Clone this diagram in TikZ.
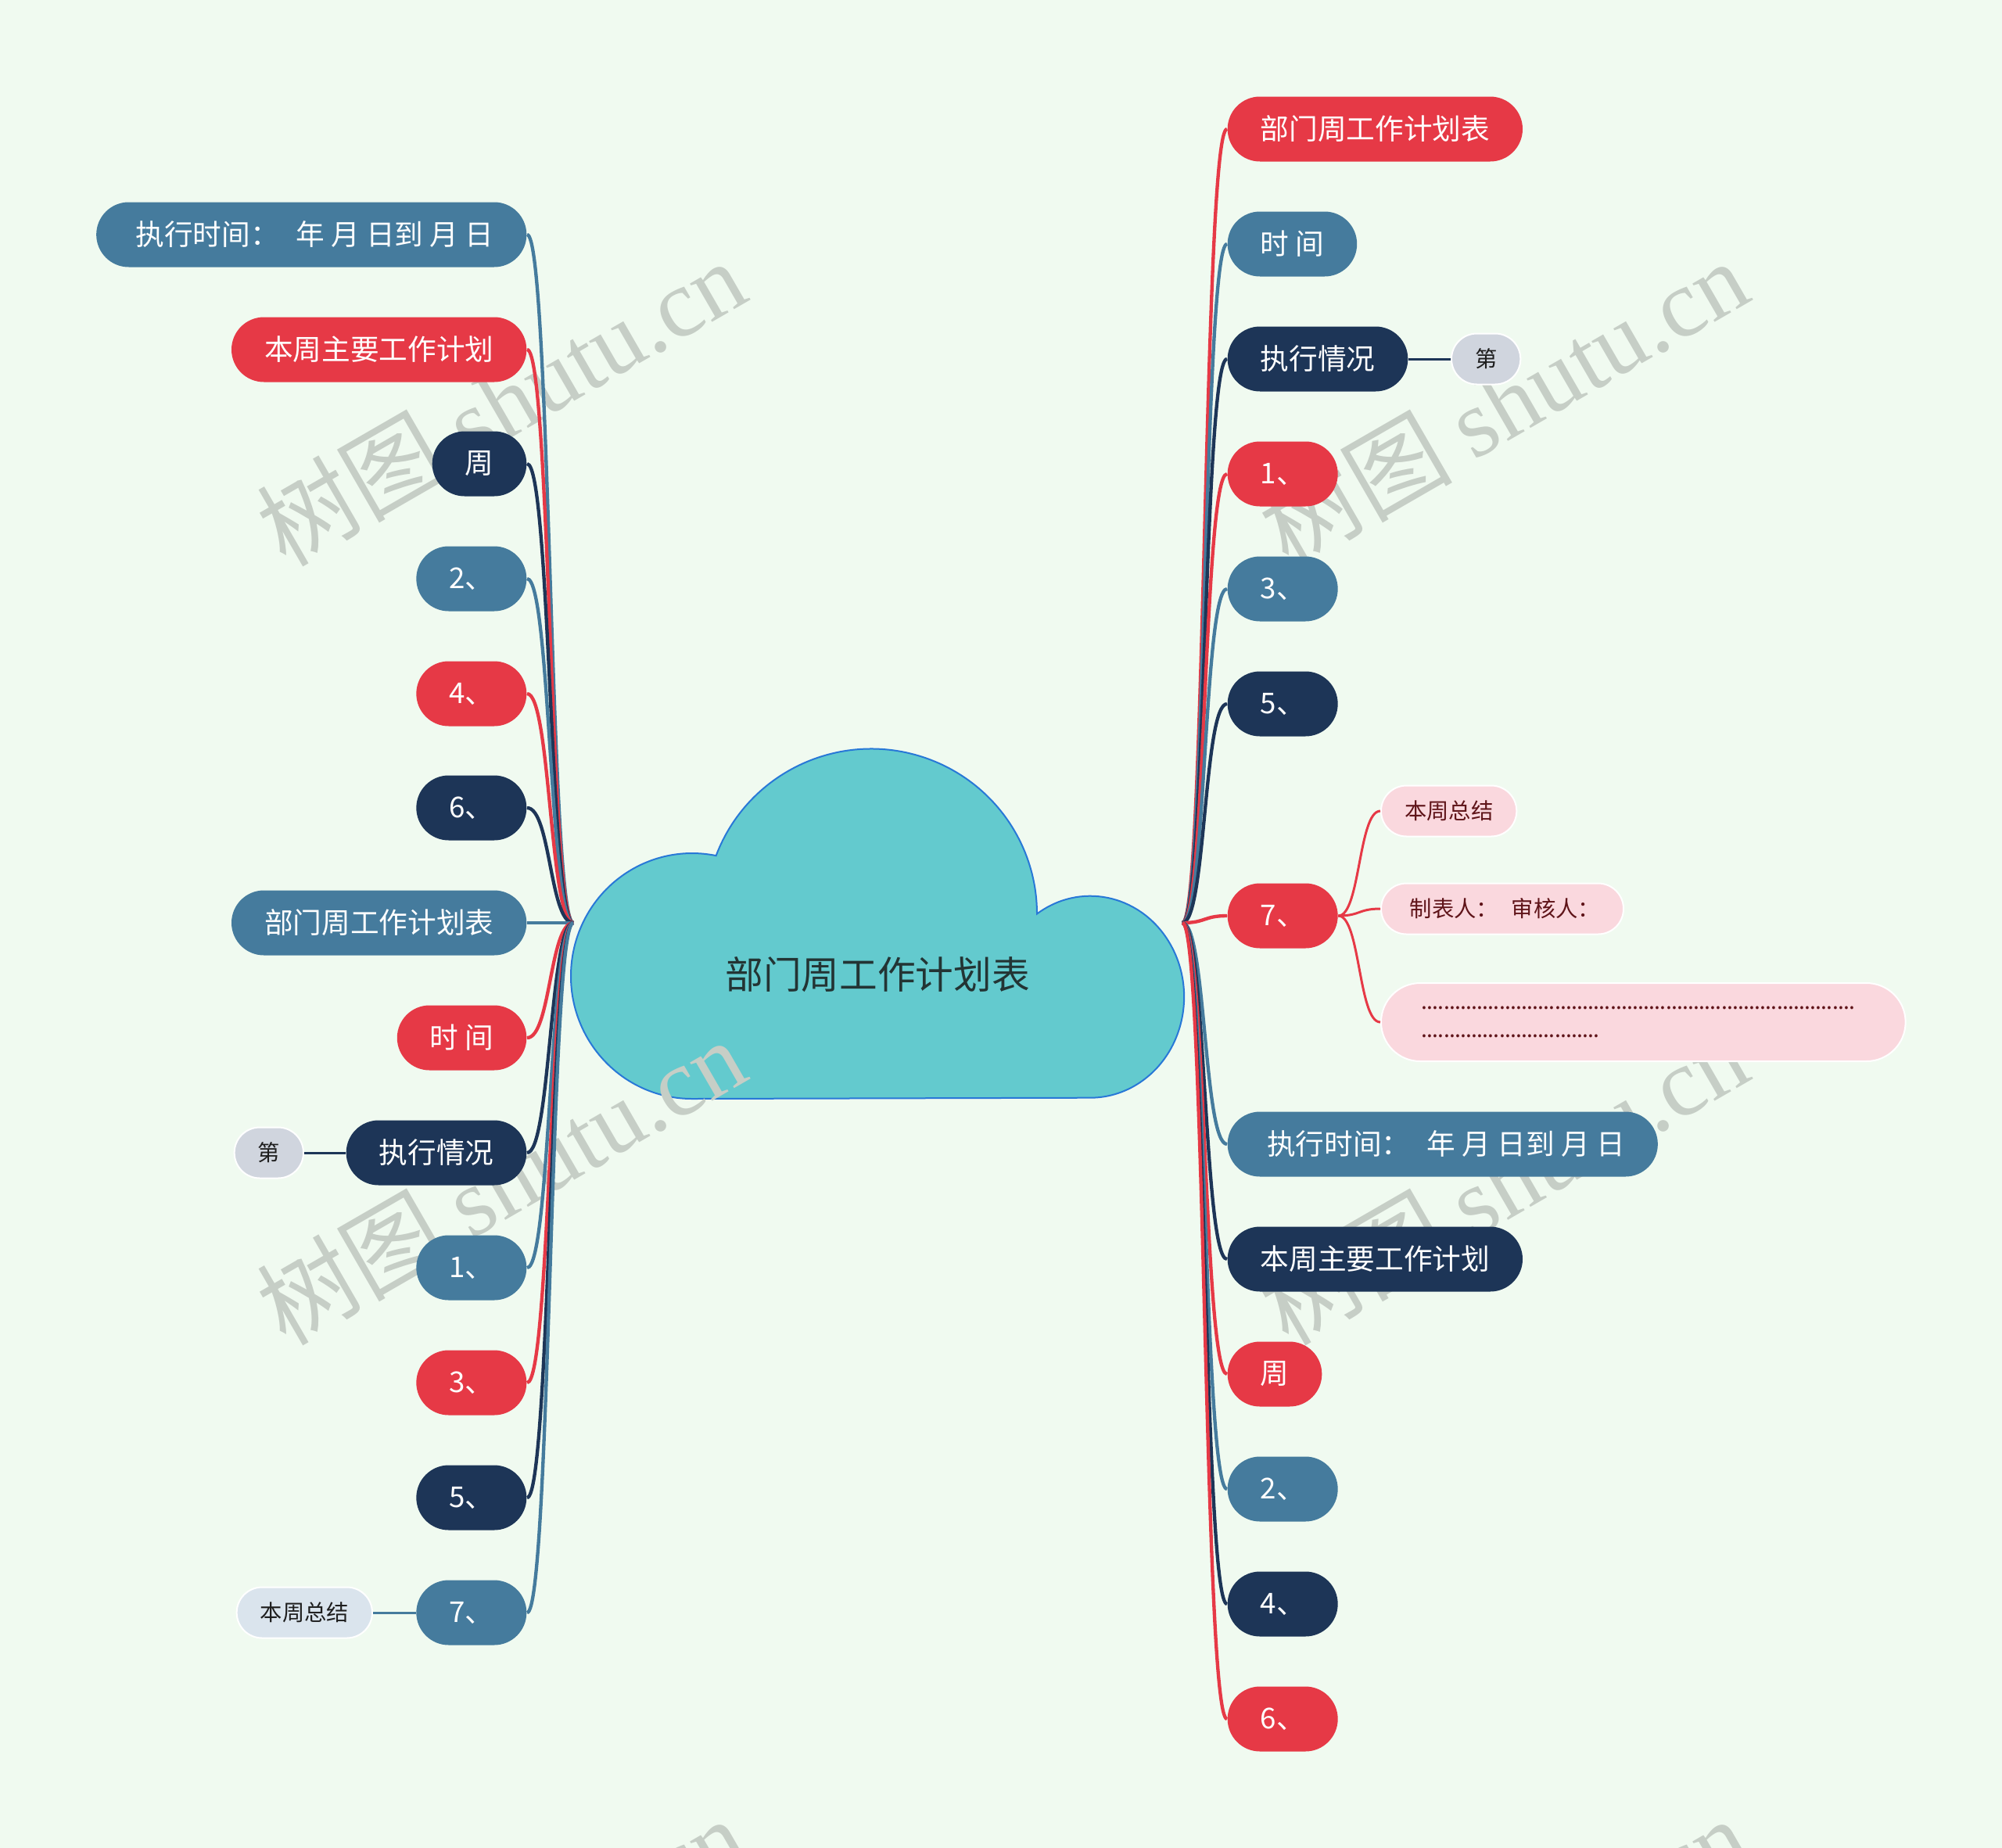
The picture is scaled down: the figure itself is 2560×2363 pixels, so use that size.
\documentclass[tikz,border=0pt]{standalone}
\usepackage{fontspec}
\setmainfont{Noto Sans CJK SC}
\newfontfamily\wmfont{Liberation Serif}
\definecolor{mmbg}{RGB}{240,250,240}
\definecolor{mmblue}{RGB}{69,123,157}
\definecolor{mmred}{RGB}{230,57,70}
\definecolor{mmnavy}{RGB}{29,53,87}
\definecolor{mmcloud}{RGB}{99,202,206}
\definecolor{mmcloudline}{RGB}{40,120,215}
\definecolor{mmgray}{RGB}{208,213,222}
\definecolor{mmpale}{RGB}{218,228,237}
\definecolor{mmpink}{RGB}{250,216,222}
\definecolor{mmwine}{RGB}{95,20,25}
\definecolor{mmink}{RGB}{30,30,30}
\definecolor{mmtitle}{RGB}{35,52,52}
\definecolor{mmwater}{RGB}{198,206,198}
\newcommand{\dotrow}[1]{\leavevmode\hbox to #1{\leaders\hbox to 2.13pt{\hss.\hss}\hfill}}
\begin{document}
\begin{tikzpicture}[x=0.3pt, y=-0.3pt,
  b/.style={rounded corners=12.45pt, minimum height=24.9pt, inner xsep=12.6pt,
            inner ysep=0pt, text=white, font=\fontsize{11}{13}\selectfont},
  bblue/.style={b, fill=mmblue},
  bred/.style={b, fill=mmred},
  bnavy/.style={b, fill=mmnavy},
  num/.style={minimum width=41.7pt},
  lf/.style={rounded corners=9.75pt, minimum height=19.5pt, inner xsep=9pt,
             inner ysep=0pt, draw=white, line width=0.6pt,
             font=\fontsize{8.5}{10}\selectfont},
  lgray/.style={lf, fill=mmgray, text=mmink},
  lpale/.style={lf, fill=mmpale, text=mmink},
  lpink/.style={lf, fill=mmpink, text=mmwine},
  cloudbody/.style={fill=mmcloud, draw=mmcloudline, line width=0.6pt},
  br/.style={line width=1.3pt},
  eblue/.style={br, mmblue},
  ered/.style={br, mmred},
  enavy/.style={br, mmnavy},
  tw/.style={line width=0.9pt},
  wmark/.style={text=mmwater, rotate=30, font=\fontsize{37}{40}\selectfont}]
\useasboundingbox (0,0) rectangle (2560,2363);
\fill[mmbg] (0,0) rectangle (2560,2363);
% cloud
\draw[cloudbody] (885,1405)
  arc[start angle=90, end angle=281.4, x radius=155, y radius=157]
  arc[start angle=200.65, end angle=360, x radius=212, y radius=211]
  arc[start angle=235.4, end angle=450, x radius=120, y radius=129] -- cycle;
\node[text=mmtitle, font=\fontsize{14.6}{17}\selectfont] (root) at (1122,1246) {部门周工作计划表};
% watermarks
\node[wmark] (w1) at (640,514)   {树图 {\wmfont shutu.cn}};
\node[wmark] (w2) at (1922,514)  {树图 {\wmfont shutu.cn}};
\node[wmark] (w3) at (640,1510)  {树图 {\wmfont shutu.cn}};
\node[wmark] (w4) at (1922,1510) {树图 {\wmfont shutu.cn}};
\node[wmark] (w5) at (640,2506)  {树图 {\wmfont shutu.cn}};
\node[wmark] (w6) at (1922,2506) {树图 {\wmfont shutu.cn}};
\coordinate (hubl) at (733,1180);
\coordinate (hubr) at (1512,1180);
% left side
\node[bblue, anchor=east] (l1)       at (674,300)  {\hspace{2.5pt}执行时间：\hspace{6.5pt}年 月 日到 月 日};
\node[bred,  anchor=east] (l2)       at (674,447)  {本周主要工作计划};
\node[bnavy, anchor=east] (l3)       at (674,593)  {周};
\node[bblue, num, anchor=east] (l4)  at (674,740)  {2、};
\node[bred,  num, anchor=east] (l5)  at (674,887)  {4、};
\node[bnavy, num, anchor=east] (l6)  at (674,1033) {6、};
\node[bblue, anchor=east] (l7)       at (674,1180) {部门周工作计划表};
\node[bred,  anchor=east] (l8)       at (674,1327) {时 间};
\node[bnavy, anchor=east] (l9)       at (674,1474) {执行情况};
\node[bblue, num, anchor=east] (l10) at (674,1621) {1、};
\node[bred,  num, anchor=east] (l11) at (674,1768) {3、};
\node[bnavy, num, anchor=east] (l12) at (674,1915) {5、};
\node[bblue, num, anchor=east] (l13) at (674,2062) {7、};
\node[lgray, anchor=east] (l9a)  at (389,1474) {第};
\node[lpale, anchor=east] (l13a) at (477,2062) {本周总结};
% right side
\node[bred,  anchor=west] (r1)       at (1569,165)  {部门周工作计划表};
\node[bblue, anchor=west] (r2)       at (1569,312)  {时 间};
\node[bnavy, anchor=west] (r3)       at (1569,459)  {执行情况};
\node[bred,  num, anchor=west] (r4)  at (1569,606)  {1、};
\node[bblue, num, anchor=west] (r5)  at (1569,753)  {3、};
\node[bnavy, num, anchor=west] (r6)  at (1569,900)  {5、};
\node[bred,  num, anchor=west] (r7)  at (1569,1171) {7、};
\node[bblue, anchor=west] (r8)       at (1569,1463) {\hspace{2.5pt}执行时间：\hspace{6.5pt}年 月 日到 月 日};
\node[bnavy, anchor=west] (r9)       at (1569,1610) {本周主要工作计划};
\node[bred,  anchor=west] (r10)      at (1569,1757) {周};
\node[bblue, num, anchor=west] (r11) at (1569,1904) {2、};
\node[bnavy, num, anchor=west] (r12) at (1569,2051) {4、};
\node[bred,  num, anchor=west] (r13) at (1569,2198) {6、};
\node[lgray, anchor=west] (r3a) at (1855,459)  {第};
\node[lpink, anchor=west] (r7a) at (1765,1037) {本周总结};
\node[lpink, anchor=west] (r7b) at (1765,1162) {\hspace{2pt}制表人：\hspace{5pt}审核人：\hspace{4pt}};
\node[lpink, anchor=west, rounded corners=15pt, minimum height=30pt,
      text width=170pt, align=left, inner xsep=15.6pt,
      font=\fontsize{8.5}{10.8}\selectfont] (r7c) at (1765,1307)
  {\dotrow{168pt}\\\dotrow{69pt}};
% branches
\draw[eblue] (hubl) .. controls +(-30,0) and +(30,0) .. (l1.east);
\draw[ered]  (hubl) .. controls +(-30,0) and +(30,0) .. (l2.east);
\draw[enavy] (hubl) .. controls +(-30,0) and +(30,0) .. (l3.east);
\draw[eblue] (hubl) .. controls +(-30,0) and +(30,0) .. (l4.east);
\draw[ered]  (hubl) .. controls +(-30,0) and +(30,0) .. (l5.east);
\draw[enavy] (hubl) .. controls +(-30,0) and +(30,0) .. (l6.east);
\draw[eblue] (hubl) -- (l7.east);
\draw[ered]  (hubl) .. controls +(-30,0) and +(30,0) .. (l8.east);
\draw[enavy] (hubl) .. controls +(-30,0) and +(30,0) .. (l9.east);
\draw[eblue] (hubl) .. controls +(-30,0) and +(30,0) .. (l10.east);
\draw[ered]  (hubl) .. controls +(-30,0) and +(30,0) .. (l11.east);
\draw[enavy] (hubl) .. controls +(-30,0) and +(30,0) .. (l12.east);
\draw[eblue] (hubl) .. controls +(-30,0) and +(30,0) .. (l13.east);
\draw[enavy, tw] (l9.west) -- (l9a.east);
\draw[eblue, tw] (l13.west) -- (l13a.east);
\draw[ered]  (hubr) .. controls +(30,0) and +(-30,0) .. (r1.west);
\draw[eblue] (hubr) .. controls +(30,0) and +(-30,0) .. (r2.west);
\draw[enavy] (hubr) .. controls +(30,0) and +(-30,0) .. (r3.west);
\draw[ered]  (hubr) .. controls +(30,0) and +(-30,0) .. (r4.west);
\draw[eblue] (hubr) .. controls +(30,0) and +(-30,0) .. (r5.west);
\draw[enavy] (hubr) .. controls +(30,0) and +(-30,0) .. (r6.west);
\draw[ered]  (hubr) .. controls +(30,0) and +(-30,0) .. (r7.west);
\draw[eblue] (hubr) .. controls +(30,0) and +(-30,0) .. (r8.west);
\draw[enavy] (hubr) .. controls +(30,0) and +(-30,0) .. (r9.west);
\draw[ered]  (hubr) .. controls +(30,0) and +(-30,0) .. (r10.west);
\draw[eblue] (hubr) .. controls +(30,0) and +(-30,0) .. (r11.west);
\draw[enavy] (hubr) .. controls +(30,0) and +(-30,0) .. (r12.west);
\draw[ered]  (hubr) .. controls +(30,0) and +(-30,0) .. (r13.west);
\draw[enavy, tw] (r3.east) -- (r3a.west);
\draw[ered, tw] (r7.east) .. controls +(28,0) and +(-28,0) .. (r7a.west);
\draw[ered, tw] (r7.east) .. controls +(28,0) and +(-28,0) .. (r7b.west);
\draw[ered, tw] (r7.east) .. controls +(28,0) and +(-28,0) .. (r7c.west);
\end{tikzpicture}
\end{document}
